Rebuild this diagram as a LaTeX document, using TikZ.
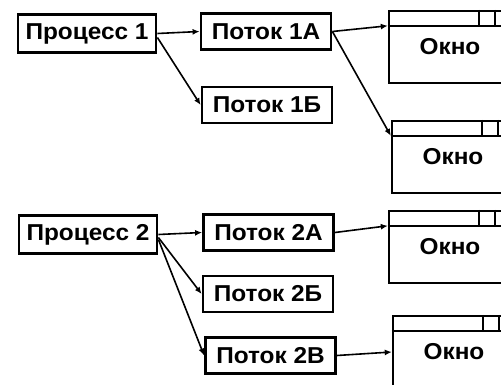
\documentclass[tikz,border=0pt]{standalone}
\usepackage{fontspec}
\setmainfont{Liberation Sans}[FakeStretch=1.06]
\usetikzlibrary{arrows.meta}

\begin{document}
\begin{tikzpicture}[x=1pt,y=-1pt,
    font=\fontsize{23}{25}\selectfont\bfseries,
    >={Latex[length=7pt,width=6pt]},
    proc/.style={draw,line width=2.8pt,inner sep=0pt,minimum width=138pt,minimum height=38pt},
    potok/.style={draw,line width=2.8pt,inner sep=0pt,minimum width=130pt,minimum height=36pt},
    okno/.style={draw,line width=2.4pt,inner sep=0pt,minimum width=122pt,minimum height=72pt},
    link/.style={->,line width=1.6pt}]
    \useasboundingbox (0,0) rectangle (501,385);
    \clip (0,0) rectangle (501,385);

    % processes and their threads
    \node[proc] (P1) at (87,33.5) {Процесс 1};
    \node[potok] (T1A) at (266,31.5) {Поток 1А};
    \node[potok] (T1B) at (267,105) {Поток 1Б};
    \node[proc] (P2) at (88,234.5) {Процесс 2};
    \node[potok] (T2A) at (268.5,232.5) {Поток 2А};
    \node[potok] (T2B) at (268,294) {Поток 2Б};
    \node[potok] (T2C) at (270.5,355.5) {Поток 2В};

    % windows
    \node[okno] (W1) at (450,47) {Окно};
    \node[okno] (W2) at (453,157) {Окно};
    \node[okno] (W3) at (450,247) {Окно};
    \node[okno] (W4) at (454,352) {Окно};
    \foreach \w in {W1,W2,W3,W4} {
        \draw[line width=1.5pt] ([yshift=-16pt]\w.north west) coordinate (\w-bar)
            -- ([yshift=-16pt]\w.north east);
        \draw[line width=1.5pt] ([xshift=91pt]\w.north west) -- ([xshift=91pt,yshift=-16pt]\w.north west);
        \draw[line width=1.5pt] ([xshift=107pt]\w.north west) -- ([xshift=107pt,yshift=-16pt]\w.north west);
    }

    \draw[link] (P1.east) -- (T1A.west);
    \draw[link] ([yshift=-4pt]P1.east) -- (T1B.west);
    \draw[link] (T1A.east) -- (W1-bar);
    \draw[link] (T1A.east) -- (W2-bar);
    \draw[link] (P2.east) -- (T2A.west);
    \draw[link] ([yshift=-3pt]P2.east) -- (T2B.west);
    \draw[link] ([yshift=-5pt]P2.east) -- (T2C.west);
    \draw[link] (T2A.east) -- (W3-bar);
    \draw[link] (T2C.east) -- (W4.west);
\end{tikzpicture}
\end{document}
